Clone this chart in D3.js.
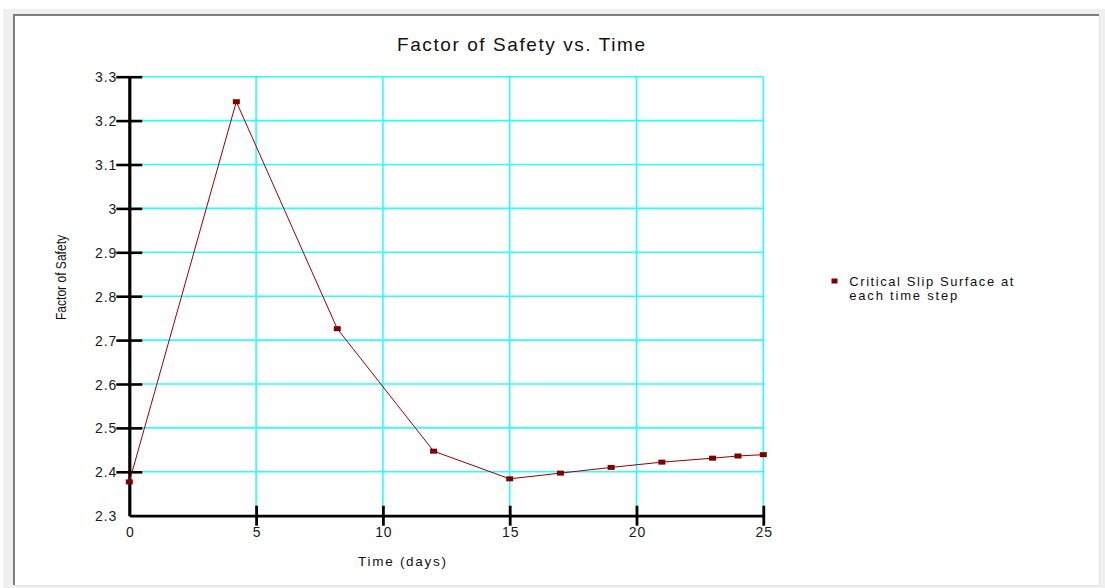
<!DOCTYPE html>
<html>
<head>
<meta charset="utf-8">
<script src="https://cdn.jsdelivr.net/npm/d3@7"></script>
<style>
    html, body { margin: 0; padding: 0; background: #ffffff; overflow: hidden; }
    svg { display: block; font-family: "Liberation Sans", Arial, sans-serif; }
</style>
</head>
<body>
<svg id="chart"></svg>
<script>
// time step (days) and factor of safety of the critical slip surface
const times = [0, 4.22, 8.2, 12, 15, 17, 19, 21, 23, 24, 25];
const fos   = [2.377, 3.243, 2.726, 2.447, 2.384, 2.397, 2.410, 2.422, 2.431, 2.436, 2.439];

const xTicks = [0, 5, 10, 15, 20, 25];
const yTicks = [2.3, 2.4, 2.5, 2.6, 2.7, 2.8, 2.9, 3.0, 3.1, 3.2, 3.3];

const title      = "Factor of Safety vs. Time";
const xTitle     = "Time (days)";
const yTitle     = "Factor of Safety";
const legendText = ["Critical Slip Surface at", "each time step"];

let width = 1105, height = 588;

let svg = d3.select("#chart")
            .attr("width", width)
            .attr("height", height);

/* window background + sunken panel */
svg.append("rect")
    .attr("x", 3).attr("y", 9)
    .attr("width", width - 3).attr("height", height - 9)
    .attr("fill", "#f0f0f0");
svg.append("rect")
    .attr("x", 13).attr("y", 14)
    .attr("width", 1086).attr("height", 571)
    .attr("fill", "#ffffff");
svg.append("path") /* dark top-left edge */
    .attr("d", "M14,585 V15 H1099")
    .attr("fill", "none")
    .attr("stroke", "#7d7d7d")
    .attr("stroke-width", 2);
svg.append("path") /* light bottom-right edge */
    .attr("d", "M14,585.5 H1099.5 V15")
    .attr("fill", "none")
    .attr("stroke", "#e3e3e3")
    .attr("stroke-width", 1);

let xScale = d3.scaleLinear().domain([0, 25]).range([129.3, 763.3]),
    yScale = d3.scaleLinear().domain([2.3, 3.3]).range([515.7, 76.7]);

let g = svg.append("g");

/* grid */
g.selectAll(".hgrid")
    .data(yTicks.filter((d) => d !== 2.3))
    .enter()
    .append("line")
    .attr("class", "hgrid")
    .attr("x1", xScale(0)).attr("x2", xScale(25))
    .attr("y1", (d) => yScale(d)).attr("y2", (d) => yScale(d))
    .attr("stroke", "#2affff")
    .attr("stroke-width", 1.6);
g.selectAll(".vgrid")
    .data(xTicks.filter((d) => d !== 0))
    .enter()
    .append("line")
    .attr("class", "vgrid")
    .attr("x1", (d) => xScale(d)).attr("x2", (d) => xScale(d))
    .attr("y1", yScale(3.3)).attr("y2", yScale(2.3))
    .attr("stroke", "#2affff")
    .attr("stroke-width", 1.6);

/* y-axis, ticks on both sides */
let yAxis = d3.axisLeft(yScale)
                .tickValues(yTicks)
                .tickFormat((d) => String(+d.toFixed(1)))
                .tickSizeInner(13)
                .tickSizeOuter(0)
                .tickPadding(0);
let gy = g.append("g")
            .attr("class", "y-axis")
            .attr("transform", `translate(${xScale(0)}, 0)`)
            .call(yAxis);
gy.select(".domain").attr("stroke", "#000").attr("stroke-width", 3.2);
gy.selectAll(".tick line")
    .attr("x1", 13).attr("x2", -13)
    .attr("stroke", "#000")
    .attr("stroke-width", 2.6)
    .filter((d) => d === 2.3).remove();
gy.selectAll(".tick text")
    .attr("x", -12.2)
    .attr("dy", "0.36em")
    .attr("fill", "#1a1a1a")
    .style("font-size", "14px")
    .style("letter-spacing", "0.9px");

/* x-axis */
let xAxis = d3.axisBottom(xScale)
                .tickValues(xTicks)
                .tickSizeInner(10)
                .tickSizeOuter(0)
                .tickPadding(0);
let gx = g.append("g")
            .attr("class", "x-axis")
            .attr("transform", `translate(0, ${yScale(2.3)})`)
            .call(xAxis);
gx.select(".domain").attr("stroke", "#000").attr("stroke-width", 2.8);
gx.selectAll(".tick line")
    .attr("y1", -10).attr("y2", 10)
    .attr("stroke", "#000")
    .attr("stroke-width", 2.8)
    .filter((d) => d === 0).remove();
gx.selectAll(".tick text")
    .attr("y", 21.5)
    .attr("dy", null)
    .attr("dx", "0.45px")
    .attr("fill", "#1a1a1a")
    .style("font-size", "14px")
    .style("letter-spacing", "0.9px");
svg.selectAll(".y-axis, .x-axis").attr("font-family", null).attr("font-size", null);

/* series */
let points = times.map((t, i) => [t, fos[i]]);
let line = d3.line()
                .x((d) => xScale(d[0]))
                .y((d) => yScale(d[1]));

g.append("path")
    .datum(points)
    .attr("d", line)
    .attr("fill", "none")
    .attr("stroke", "#990000")
    .attr("stroke-width", 1);

g.selectAll(".marker")
    .data(points)
    .enter()
    .append("rect")
    .attr("class", "marker")
    .attr("x", (d) => xScale(d[0]) - 3.5)
    .attr("y", (d) => yScale(d[1]) - 2.5)
    .attr("width", 7)
    .attr("height", 5)
    .attr("fill", "#800000");

/* titles */
svg.append("text")
    .attr("x", 521).attr("y", 50.5)
    .attr("text-anchor", "middle")
    .attr("textLength", 248)
    .attr("lengthAdjust", "spacing")
    .style("font-size", "19px")
    .attr("fill", "#111")
    .text(title);

svg.append("text")
    .attr("x", 402).attr("y", 565.5)
    .attr("text-anchor", "middle")
    .attr("textLength", 88)
    .attr("lengthAdjust", "spacing")
    .style("font-size", "13.5px")
    .attr("fill", "#111")
    .text(xTitle);

svg.append("text")
    .attr("transform", "translate(66, 277.5) rotate(-90)")
    .attr("text-anchor", "middle")
    .attr("textLength", 85)
    .attr("lengthAdjust", "spacingAndGlyphs")
    .style("font-size", "14.5px")
    .attr("fill", "#111")
    .text(yTitle);

/* legend */
svg.append("rect")
    .attr("x", 831.5).attr("y", 278.5)
    .attr("width", 6).attr("height", 5)
    .attr("fill", "#800000");
svg.selectAll(".legend-text")
    .data(legendText)
    .enter()
    .append("text")
    .attr("class", "legend-text")
    .attr("x", 849.3)
    .attr("y", (d, i) => 285.5 + i * 14)
    .attr("textLength", (d, i) => i === 0 ? 164 : 108)
    .attr("lengthAdjust", "spacing")
    .style("font-size", "13px")
    .attr("fill", "#111")
    .text((d) => d);
</script>
</body>
</html>
